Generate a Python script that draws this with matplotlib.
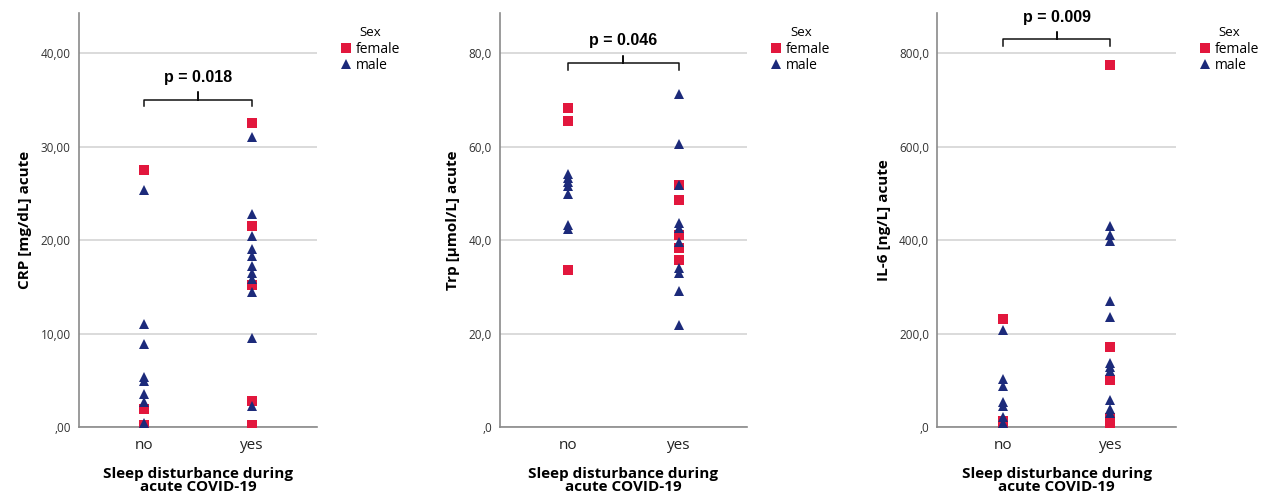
import numpy as np
import matplotlib.pyplot as plt
from matplotlib.lines import Line2D

GROUPS = ['no', 'yes']
X_LABEL = 'Sleep disturbance during\nacute COVID-19'

# CRP [mg/dL]
crp_female_no = [27.5, 1.9, 0.2]
crp_male_no = [25.4, 11.0, 8.9, 5.4, 4.9, 3.5, 2.7, 0.4]
crp_female_yes = [32.5, 21.5, 15.2, 2.75, 0.2]
crp_male_yes = [31.0, 22.8, 20.4, 19.1, 18.3, 17.2, 16.5, 15.8, 14.5, 9.5, 2.2]
crp_ticks = [0, 10, 20, 30, 40]
crp_ticklabels = [',00', '10,00', '20,00', '30,00', '40,00']

# Trp [umol/L]
trp_female_no = [68.2, 65.4, 33.5]
trp_male_no = [54.2, 53.3, 52.4, 51.6, 49.8, 43.3, 42.4]
trp_female_yes = [51.7, 48.6, 41.1, 38.3, 35.8]
trp_male_yes = [71.3, 60.6, 51.7, 43.6, 42.6, 39.6, 34.0, 32.9, 29.1, 21.9]
trp_ticks = [0, 20, 40, 60, 80]
trp_ticklabels = [',0', '20,0', '40,0', '60,0', '80,0']

# IL-6 [ng/L]
il6_female_no = [230.7, 13.6, 4.3]
il6_male_no = [207.9, 102.1, 87.9, 54.3, 45.0, 22.1, 7.9]
il6_female_yes = [773.6, 172.1, 100.7, 18.6, 9.3]
il6_male_yes = [429.3, 411.4, 397.1, 270.0, 234.3, 137.9, 129.3, 120.7,
                57.9, 37.9, 30.7]
il6_ticks = [0, 200, 400, 600, 800]
il6_ticklabels = [',0', '200,0', '400,0', '600,0', '800,0']

FEMALE = '#e2173d'
MALE = '#1c2a7a'


def draw_panel(ax, f_no, m_no, f_yes, m_yes, ticks, ticklabels, ylabel,
               ymax, ptext, bracket):
    for i, (fv, mv) in enumerate([(f_no, m_no), (f_yes, m_yes)]):
        ax.plot(np.full(len(fv), i), fv, 's', color=FEMALE, ms=7, mew=0,
                zorder=3)
        ax.plot(np.full(len(mv), i), mv, '^', color=MALE, ms=7, mew=0,
                zorder=4)
    ax.set_xlim(-0.61, 1.61)
    ax.set_ylim(0, ymax)
    ax.set_xticks([0, 1])
    ax.set_xticklabels(GROUPS, fontsize=11, color='#222222')
    ax.set_yticks(ticks)
    ax.set_yticklabels(ticklabels, fontsize=8.5, color='#333333')
    ax.tick_params(length=0, pad=6)
    ax.tick_params(axis='x', pad=8)
    ax.yaxis.grid(True, color='#d4d4d4', lw=1.2)
    ax.set_axisbelow(True)
    for s in ['top', 'right']:
        ax.spines[s].set_visible(False)
    for s in ['left', 'bottom']:
        ax.spines[s].set_color('#8a8a8a')
        ax.spines[s].set_linewidth(1.2)
    ax.set_ylabel(ylabel, fontsize=11, fontweight='bold', labelpad=6)
    ax.set_xlabel(X_LABEL, fontsize=11, fontweight='bold', labelpad=10,
                  linespacing=0.9)

    # significance bracket
    ylo, yl, yt, ytxt = bracket
    ax.plot([0, 0, 0.5, 0.5, 0.5, 1, 1], [ylo, yl, yl, yt, yl, yl, ylo],
            color='#111111', lw=1.1, solid_joinstyle='round', zorder=5)
    ax.text(0.5, ytxt, ptext, ha='center', va='center', fontsize=11.5,
            fontweight='bold', family='Liberation Sans')

    handles = [
        Line2D([], [], marker='s', ls='', color=FEMALE, ms=7, mew=0),
        Line2D([], [], marker='^', ls='', color=MALE, ms=7, mew=0),
    ]
    leg = ax.legend(handles, ['female', 'male'], title='Sex', loc='upper left',
                    bbox_to_anchor=(1.07, 0.985), frameon=False, fontsize=10,
                    title_fontsize=9.5, handlelength=0.8, handletextpad=0.3,
                    labelspacing=0.1, borderpad=0)
    leg._legend_box.align = 'center'
    leg._legend_box.sep = 2


plt.rcParams['font.family'] = ['Open Sans', 'DejaVu Sans']

fig = plt.figure(figsize=(12.62, 4.97), dpi=100)
ax1 = fig.add_axes([0.0626, 0.1408, 0.1886, 0.833])
ax2 = fig.add_axes([0.3964, 0.1408, 0.1953, 0.833])
ax3 = fig.add_axes([0.7427, 0.1408, 0.1892, 0.833])

draw_panel(ax1, crp_female_no, crp_male_no, crp_female_yes, crp_male_yes,
           crp_ticks, crp_ticklabels, 'CRP [mg/dL] acute', 44.3,
           'p = 0.018', (34.3, 35.0, 35.8, 37.4))
draw_panel(ax2, trp_female_no, trp_male_no, trp_female_yes, trp_male_yes,
           trp_ticks, trp_ticklabels, 'Trp [µmol/L] acute', 88.6,
           'p = 0.046', (76.5, 78.0, 79.4, 82.7))
draw_panel(ax3, il6_female_no, il6_male_no, il6_female_yes, il6_male_yes,
           il6_ticks, il6_ticklabels, 'IL-6 [ng/L] acute', 885.6,
           'p = 0.009', (814, 830, 844, 875))

fig.savefig('out.png', dpi=100)
